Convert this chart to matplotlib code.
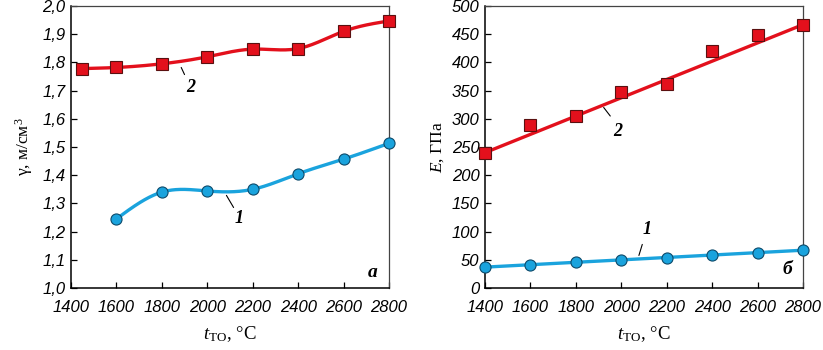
import numpy as np
from matplotlib import pyplot as plt
from matplotlib.ticker import FuncFormatter

# панель а: плотность
t_gamma_2 = [1450, 1600, 1800, 2000, 2200, 2400, 2600, 2800]
gamma_2 = [1.778, 1.782, 1.795, 1.820, 1.847, 1.849, 1.910, 1.947]
t_gamma_1 = [1600, 1800, 2000, 2200, 2400, 2600, 2800]
gamma_1 = [1.245, 1.340, 1.344, 1.350, 1.405, 1.457, 1.513]

# панель б: модуль упругости
t_E = [1400, 1600, 1800, 2000, 2200, 2400, 2600, 2800]
E_2 = [240, 289, 305, 347, 362, 421, 449, 467]
E_1 = [37, 41, 46, 50, 54, 59, 62, 67]

x_ticks = [1400, 1600, 1800, 2000, 2200, 2400, 2600, 2800]

RED = "#e3101c"
BLUE = "#1aa3dd"

plt.rcParams["mathtext.fontset"] = "custom"
plt.rcParams["mathtext.rm"] = "Liberation Serif"
plt.rcParams["mathtext.it"] = "Liberation Serif:italic"


def natural_spline(x, y, n=300):
    x = np.asarray(x, float)
    y = np.asarray(y, float)
    k = len(x)
    h = np.diff(x)
    A = np.zeros((k, k))
    b = np.zeros(k)
    A[0, 0] = A[-1, -1] = 1
    for i in range(1, k - 1):
        A[i, i - 1] = h[i - 1]
        A[i, i] = 2 * (h[i - 1] + h[i])
        A[i, i + 1] = h[i]
        b[i] = 6 * ((y[i + 1] - y[i]) / h[i] - (y[i] - y[i - 1]) / h[i - 1])
    M = np.linalg.solve(A, b)
    xs = np.linspace(x[0], x[-1], n)
    idx = np.clip(np.searchsorted(x, xs) - 1, 0, k - 2)
    x0, x1 = x[idx], x[idx + 1]
    hh = x1 - x0
    ys = (M[idx] * (x1 - xs) ** 3 / (6 * hh) + M[idx + 1] * (xs - x0) ** 3 / (6 * hh)
          + (y[idx] / hh - M[idx] * hh / 6) * (x1 - xs)
          + (y[idx + 1] / hh - M[idx + 1] * hh / 6) * (xs - x0))
    return xs, ys


tick_font = dict(family="Liberation Sans", style="italic", size=12)
serif = "Liberation Serif"

fig = plt.figure(figsize=(8.23, 3.5), dpi=100)
ax1 = fig.add_axes([71 / 823, 1 - 288 / 350, 318 / 823, 282 / 350])
ax2 = fig.add_axes([485 / 823, 1 - 288 / 350, 318 / 823, 282 / 350])

# а
for tx, gy, c, m in [(t_gamma_2, gamma_2, RED, "s"), (t_gamma_1, gamma_1, BLUE, "o")]:
    xs, ys = natural_spline(tx, gy)
    ax1.plot(xs, ys, color=c, lw=2.4, zorder=2)
    ax1.plot(tx, gy, m, color=c, ms=8, mec="#5a1010" if m == "s" else "#0d4a6a",
             mew=0.8, ls="none", zorder=3, clip_on=False)

ax1.set_xlim(1400, 2800)
ax1.set_ylim(1.0, 2.0)
ax1.set_yticks(np.arange(1.0, 2.01, 0.1))
ax1.yaxis.set_major_formatter(FuncFormatter(lambda v, p: f"{v:.1f}".replace(".", ",")))
ax1.set_ylabel("γ, м/см$^{3}$", family=serif, fontsize=12.5, labelpad=5)
ax1.annotate("", xy=(1880, 1.791), xytext=(1905, 1.748),
             arrowprops=dict(arrowstyle="-", lw=0.8, color="black"))
ax1.text(1925, 1.71, "2", family=serif, style="italic", weight="bold", fontsize=13,
         ha="center", va="center")
ax1.annotate("", xy=(2078, 1.337), xytext=(2122, 1.277),
             arrowprops=dict(arrowstyle="-", lw=0.8, color="black"))
ax1.text(2140, 1.245, "1", family=serif, style="italic", weight="bold", fontsize=13,
         ha="center", va="center")
ax1.text(2730, 1.055, "а", family=serif, style="italic", weight="bold", fontsize=14,
         ha="center", va="center")

# б: прямые через крайние точки
for ey, c, m in [(E_2, RED, "s"), (E_1, BLUE, "o")]:
    ax2.plot([t_E[0], t_E[-1]], [ey[0], ey[-1]], color=c, lw=2.4, zorder=2)
    ax2.plot(t_E, ey, m, color=c, ms=8, mec="#5a1010" if m == "s" else "#0d4a6a",
             mew=0.8, ls="none", zorder=3, clip_on=False)

ax2.set_xlim(1400, 2800)
ax2.set_ylim(0, 500)
ax2.set_yticks(np.arange(0, 501, 50))
ax2.set_ylabel("$\\mathit{E}$, ГПа", family=serif, fontsize=12.5, labelpad=4)
ax2.annotate("", xy=(1915, 324), xytext=(1959, 301),
             arrowprops=dict(arrowstyle="-", lw=0.8, color="black"))
ax2.text(1985, 278, "2", family=serif, style="italic", weight="bold", fontsize=13,
         ha="center", va="center")
ax2.annotate("", xy=(2074, 53), xytext=(2096, 82),
             arrowprops=dict(arrowstyle="-", lw=0.8, color="black"))
ax2.text(2113, 104, "1", family=serif, style="italic", weight="bold", fontsize=13,
         ha="center", va="center")
ax2.text(2730, 32, "б", family=serif, style="italic", weight="bold", fontsize=14,
         ha="center", va="center")

for ax in (ax1, ax2):
    ax.set_xticks(x_ticks)
    ax.tick_params(direction="in", length=4, width=0.9, top=False, right=False)
    ax.tick_params(axis="x", pad=9)
    ax.tick_params(axis="y", pad=4)
    for lab in ax.get_xticklabels() + ax.get_yticklabels():
        lab.set_fontproperties(tick_font)
    ax.set_xlabel("$\\mathit{t}_{\\mathrm{TO}}$, °C", family=serif, fontsize=13.5, labelpad=6)
    for s in ["left", "bottom"]:
        ax.spines[s].set_linewidth(1.1)
    for s in ["top", "right"]:
        ax.spines[s].set_linewidth(0.9)
        ax.spines[s].set_color("#444444")

fig.savefig("out.png", dpi=100)
